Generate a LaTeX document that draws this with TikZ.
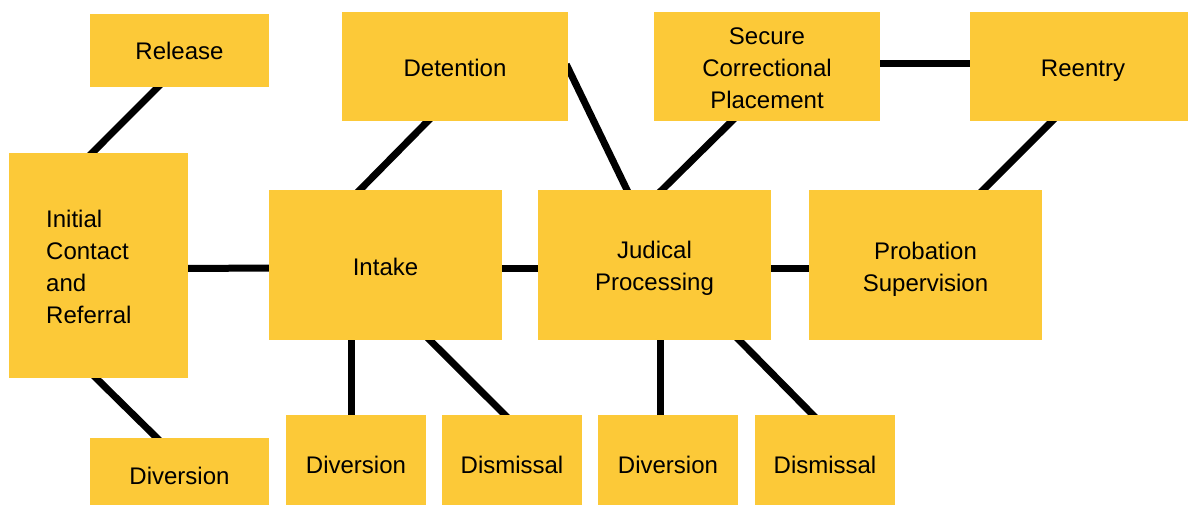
\documentclass[tikz,border=0pt]{standalone}
\usepackage{fontspec}
\setmainfont{Liberation Sans}
\usetikzlibrary{calc}
\definecolor{boxyellow}{RGB}{252,201,56}
\pgfdeclarelayer{bg}
\pgfsetlayers{bg,main}
\begin{document}
\begin{tikzpicture}[x=1pt,y=1pt,
  box/.style={fill=boxyellow,draw=none,inner sep=0pt,outer sep=0pt},
  txt/.style={inner sep=0pt,align=center,font=\fontsize{24}{32}\selectfont},
  link/.style={draw=black,line width=7pt,shorten <=-4pt,shorten >=-4pt}]
\useasboundingbox (0,0) rectangle (1188,504);
\clip (0,0) rectangle (1188,504);
% boxes
\node[box,minimum width=179pt,minimum height=73pt] (release) at (179.5,453.5) {};
\node[box,minimum width=179pt,minimum height=225pt] (initial) at (98.5,238.5) {};
\node[box,minimum width=179pt,minimum height=73pt] (div0) at (179.5,29.5) {};
\node[box,minimum width=226pt,minimum height=109pt] (detention) at (455,437.5) {};
\node[box,minimum width=226pt,minimum height=109pt] (secure) at (767,437.5) {};
\node[box,minimum width=226pt,minimum height=109pt] (reentry) at (1083,437.5) {};
\node[box,minimum width=233pt,minimum height=150pt] (intake) at (385.5,239) {};
\node[box,minimum width=233pt,minimum height=150pt] (judical) at (654.5,239) {};
\node[box,minimum width=233pt,minimum height=150pt] (probation) at (925.5,239) {};
\node[box,minimum width=140pt,minimum height=100pt] (div1) at (356,39) {};
\node[box,minimum width=140pt,minimum height=100pt] (dis1) at (512,39) {};
\node[box,minimum width=140pt,minimum height=100pt] (div2) at (668,39) {};
\node[box,minimum width=140pt,minimum height=100pt] (dis2) at (825,39) {};
% texts
\node[txt] (release-t) at ($(release)+(0,0)$) {Release};
\node[txt,anchor=west,align=left] (initial-t) at ($(initial.west)+(37,-1)$) {Initial\\Contact\\and\\Referral};
\node[txt] (div0-t) at ($(div0)+(0,-1)$) {Diversion};
\node[txt] (detention-t) at ($(detention)+(0,-1)$) {Detention};
\node[txt] (secure-t) at ($(secure)+(0,-2)$) {Secure\\Correctional\\Placement};
\node[txt] (reentry-t) at ($(reentry)+(0,-4)$) {Reentry};
\node[txt] (intake-t) at ($(intake)+(0,-2)$) {Intake};
\node[txt] (judical-t) at ($(judical)+(0,-3)$) {Judical\\Processing};
\node[txt] (probation-t) at ($(probation)+(0,-4)$) {Probation\\Supervision};
\node[txt] (div1-t) at (div1) {Diversion};
\node[txt] (dis1-t) at (dis1) {Dismissal};
\node[txt] (div2-t) at (div2) {Diversion};
\node[txt] (dis2-t) at (dis2) {Dismissal};
% connectors
\begin{pgfonlayer}{bg}
\draw[link] ($(release.south west)!0.38!(release.south east)$) -- ($(initial.north west)!0.464!(initial.north east)$);
\draw[link] ($(initial.south west)!0.486!(initial.south east)$) -- ($(div0.north west)!0.374!(div0.north east)$);
\draw[link] ($(initial.east)+(0,-3)$) -- ($(intake.west)+(0,-3)$);
\draw[link] ($(detention.south west)!0.38!(detention.south east)$) -- ($(intake.north west)!0.39!(intake.north east)$);
\draw[link] ($(detention.east)+(0,-1.5)$) -- ($(judical.north west)!0.382!(judical.north east)$);
\draw[link] ($(secure.south west)!0.345!(secure.south east)$) -- ($(judical.north west)!0.532!(judical.north east)$);
\draw[link] ($(secure.east)+(0,2.5)$) -- ($(reentry.west)+(0,2.5)$);
\draw[link] ($(reentry.south west)!0.363!(reentry.south east)$) -- ($(probation.north west)!0.747!(probation.north east)$);
\draw[link] ($(intake.east)+(0,-3)$) -- ($(judical.west)+(0,-3)$);
\draw[link] ($(judical.east)+(0,-3)$) -- ($(probation.west)+(0,-3)$);
\draw[link] ($(intake.south west)!0.352!(intake.south east)$) coordinate (a1) -- (a1 |- div1.north);
\draw[link] ($(intake.south west)!0.69!(intake.south east)$) -- ($(dis1.north west)!0.45!(dis1.north east)$);
\draw[link] ($(judical.south west)!0.524!(judical.south east)$) coordinate (a2) -- (a2 |- div2.north);
\draw[link] ($(judical.south west)!0.863!(judical.south east)$) -- ($(dis2.north west)!0.414!(dis2.north east)$);
\end{pgfonlayer}
\end{tikzpicture}
\end{document}
